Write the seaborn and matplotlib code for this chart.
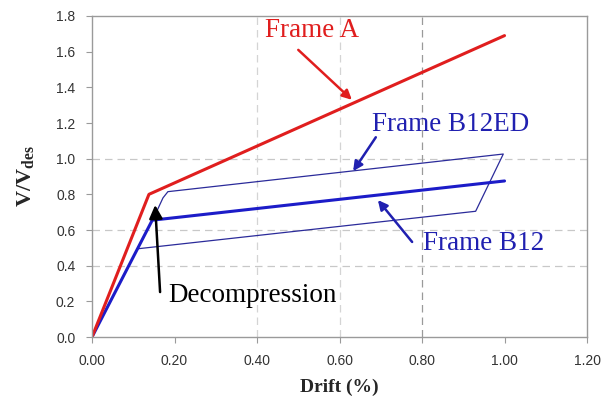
import pandas as pd
import numpy as np
import matplotlib.pyplot as plt
import seaborn as sns

# pushover curves
frame_a_drift = [0.0, 0.138, 1.0]
frame_a_v = [0.0, 0.80, 1.69]

frame_b12_drift = [0.0, 0.146, 1.0]
frame_b12_v = [0.0, 0.655, 0.875]

frame_b12ed_drift = [0.0, 0.146, 0.160, 0.172, 0.184, 0.997, 0.930, 0.112]
frame_b12ed_v = [0.0, 0.655, 0.72, 0.78, 0.815, 1.026, 0.705, 0.495]

sns.set_style("white")
plt.rcParams["mathtext.fontset"] = "custom"
plt.rcParams["mathtext.rm"] = "Liberation Serif"
plt.rcParams["mathtext.bf"] = "Liberation Serif:bold"

fig = plt.figure(figsize=(6.03, 4.01), dpi=100)
ax = fig.add_axes([0.1526, 0.1596, 0.8209, 0.8005])

# light dashed grid, only where the original has it
for gy in [0.4, 0.6, 1.0]:
    ax.axhline(gy, color="#c8c8c8", lw=0.9, ls=(0, (6, 4)), zorder=0)
for gx, gc in [(0.4, "#d4d4d4"), (0.6, "#d4d4d4"), (0.8, "#9a9a9a")]:
    ax.axvline(gx, color=gc, lw=0.9, ls=(0, (6, 4)), zorder=0)

df_a = pd.DataFrame({"drift": frame_a_drift, "v": frame_a_v})
df_b = pd.DataFrame({"drift": frame_b12_drift, "v": frame_b12_v})
df_ed = pd.DataFrame({"drift": frame_b12ed_drift, "v": frame_b12ed_v})

sns.lineplot(data=df_ed, x="drift", y="v", sort=False, estimator=None,
             color="#2b2b9a", lw=0.9, ax=ax)
sns.lineplot(data=df_b, x="drift", y="v", sort=False, estimator=None,
             color="#1c1cc8", lw=2.2, ax=ax)
sns.lineplot(data=df_a, x="drift", y="v", sort=False, estimator=None,
             color="#e01e1e", lw=2.2, ax=ax)

serif = ["Liberation Serif", "DejaVu Serif"]
red = "#e01e1e"
blue = "#2020b0"

# labels and their arrows (tail, head)
labels = [
    ("Frame A", 0.533, 1.72, "center", red, (0.50, 1.61), (0.63, 1.33), 14),
    ("Frame B12ED", 0.87, 1.19, "center", blue, (0.688, 1.12), (0.633, 0.93), 14),
    ("Frame B12", 0.95, 0.527, "center", blue, (0.776, 0.533), (0.693, 0.768), 14),
    ("Decompression", 0.184, 0.23, "left", "black", (0.165, 0.252), (0.153, 0.74), 20),
]
for txt, tx, ty, ha, col, tail, head, ms in labels:
    ax.text(tx, ty, txt, color=col, fontsize=19.5, family=serif, ha=ha, va="center")
    ax.annotate("", xy=head, xytext=tail,
                arrowprops=dict(arrowstyle="-|>", color=col, lw=1.8, mutation_scale=ms,
                                shrinkA=0, shrinkB=0))

ax.set_xlim(0, 1.2)
ax.set_ylim(0, 1.8)
ax.set_xticks(np.arange(0, 1.21, 0.2))
ax.set_yticks(np.arange(0, 1.81, 0.2))
ax.set_xticklabels([f"{t:.2f}" for t in np.arange(0, 1.21, 0.2)])
ax.set_yticklabels([f"{t:.1f}" for t in np.arange(0, 1.81, 0.2)])
ax.tick_params(axis="both", labelsize=10, colors="#9a9a9a", labelcolor="#333333",
               length=4, width=0.8, direction="out", bottom=True, left=True, pad=8)
for lab in ax.get_xticklabels() + ax.get_yticklabels():
    lab.set_family(["Liberation Sans", "DejaVu Sans"])
for sp in ax.spines.values():
    sp.set_color("#9a9a9a")
    sp.set_linewidth(1.0)

ax.set_xlabel("Drift (%)", fontsize=14, fontweight="bold", family=serif, labelpad=8)
ax.set_ylabel(r"$\mathbf{V/V}_{\mathbf{des}}$", fontsize=16, labelpad=14)

fig.savefig("out.png", dpi=100)
plt.close()
